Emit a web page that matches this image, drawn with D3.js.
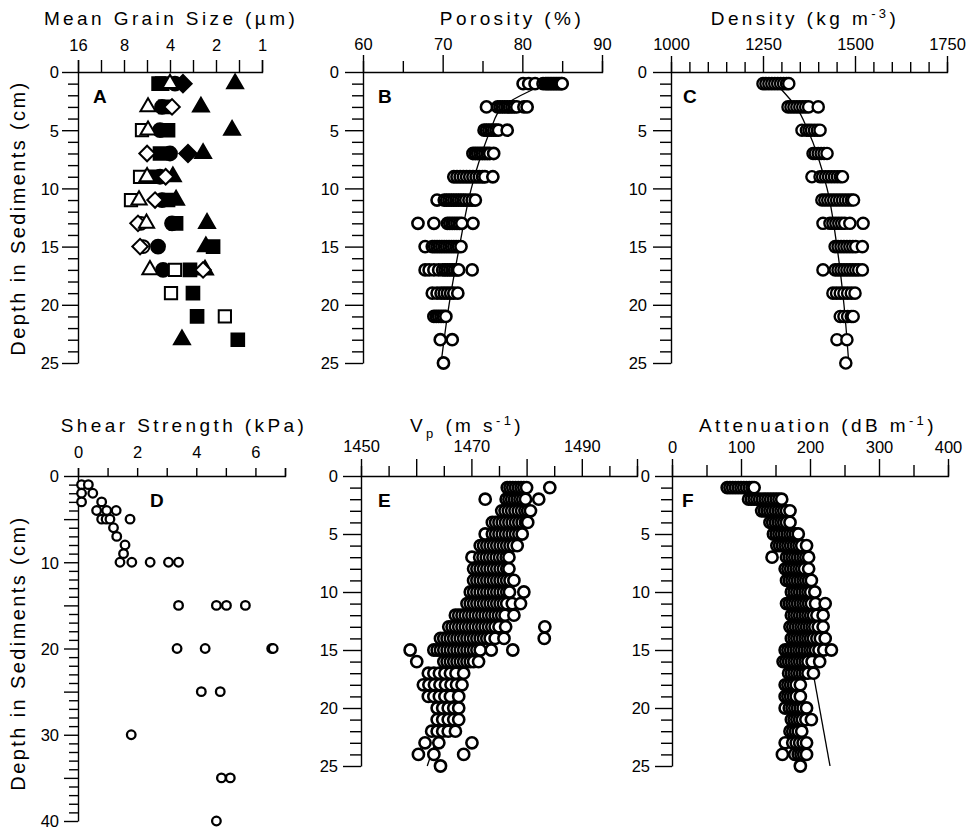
<!DOCTYPE html>
<html>
<head>
<meta charset="utf-8">
<script src="https://cdn.jsdelivr.net/npm/d3@7"></script>
<style>
body { margin: 0; background: #fff; }
svg text { font-family: "Liberation Sans", Arial, Helvetica, sans-serif; fill: #000; }
.tick text { font-size: 16.5px; }
.title { font-size: 19px; letter-spacing: 3.4px; }
.ylab { font-size: 20px; letter-spacing: 2.4px; }
.letter { font-size: 19px; font-weight: bold; }
.domain, .tick line { stroke: #000; stroke-width: 1.4; }
</style>
</head>
<body>
<script>
// ---- A: mean grain size (um) by depth (cm), one array per symbol
var grainFilledSquare = [[1,4.75],[1,4.5],[3,4.3],[5,4.12],[7,4.65],[9,5.25],[11,4.12],[13,3.65],[15,2.09],[17,2.96],[19,2.83],[21,2.66],[23,1.44]];
var grainOpenSquare = [[5,6.1],[9,6.28],[11,7.2],[17,3.71],[19,3.94],[21,1.75]];
var grainFilledTriangle = [[1,1.5],[3,2.51],[5,1.57],[7,2.43],[9,3.83],[11,3.65],[13,2.29],[15,2.33],[17,2.36],[23,3.34]];
var grainOpenTriangle = [[1,4.0],[3,5.57],[5,5.57],[9,5.65],[11,6.38],[13,5.7],[17,5.41]];
var grainFilledCircle = [[1,3.71],[3,4.51],[5,4.65],[7,4.0],[9,4.65],[11,4.51],[13,3.88],[15,4.79],[17,4.44]];
var grainFilledDiamond = [[1,3.29],[7,3.05]];
var grainOpenDiamond = [[3,3.88],[7,5.65],[9,4.27],[11,5.01],[13,6.48],[15,6.28],[17,2.43]];
var grainOpenCircle = [[13,6.2],[15,6.0]];

// ---- B: porosity (%) per sampled depth
var porosity = [
  [1, [80.1,80.8,81.6,82.6,82.9,83.1,83.3,83.5,83.7,83.9,84.1,84.3,84.5,84.7,84.9,85.0]],
  [3, [75.5,76.9,77.2,77.5,77.8,78.1,78.4,78.7,79.0,79.3,80.2,80.6]],
  [5, [75.2,75.5,75.8,76.1,76.4,76.7,77.0,78.1]],
  [7, [73.8,74.1,74.4,74.7,75.0,75.3,75.6,75.9,76.4]],
  [9, [71.4,71.8,72.2,72.6,73.0,73.4,73.8,74.2,74.6,75.0,75.3,76.3]],
  [11, [69.3,70.2,70.5,70.8,71.1,71.4,71.7,72.0,72.3,72.6,72.9,73.3,73.7,74.1]],
  [13, [66.9,68.9,70.6,70.9,71.2,71.5,71.8,72.1,72.4,73.8]],
  [15, [67.8,68.7,69.0,69.3,69.6,69.9,70.2,70.5,70.8,71.1,71.4,71.7,72.0,72.3]],
  [17, [67.8,68.3,68.9,69.5,70.0,70.3,70.6,70.9,71.2,71.5,71.8,72.0,73.7]],
  [19, [68.7,69.3,69.8,70.2,70.6,71.0,71.4,71.9]],
  [21, [68.9,69.2,69.5,69.8,70.1,70.4]],
  [23, [69.7,71.2]],
  [25, [70.1]]
];
var porosityFit = [[1.2,82.3],[3,77.5],[5,76.0],[7,74.9],[10,73.6],[15,72.1],[20,70.8],[25,69.8]];

// ---- C: density (kg m-3)
var density = [
  [1, [1250,1258,1266,1274,1282,1290,1298,1306,1314,1320]],
  [3, [1318,1326,1334,1342,1350,1358,1366,1374,1400]],
  [5, [1356,1368,1375,1382,1390,1398,1405]],
  [7, [1386,1392,1400,1408,1416,1424]],
  [9, [1383,1405,1412,1420,1428,1436,1444,1452,1460,1466]],
  [11, [1410,1418,1426,1434,1442,1450,1458,1466,1474,1482,1490,1496]],
  [13, [1413,1432,1440,1448,1456,1464,1472,1486,1522]],
  [15, [1446,1454,1462,1470,1478,1486,1494,1502,1520]],
  [17, [1413,1446,1454,1462,1470,1478,1486,1494,1502,1510,1520]],
  [19, [1440,1450,1460,1470,1480,1490,1500]],
  [21, [1460,1470,1480,1490,1495]],
  [23, [1451,1478]],
  [25, [1475]]
];
var densityFit = [[1.5,1300],[3,1340],[5,1372],[10,1424],[15,1451],[20,1470],[25,1483]];

// ---- D: shear strength (kPa) [depth, value]
var shear = [
  [1,0.12],[1,0.35],[2,0.12],[2,0.5],[3,0.12],[3,0.8],
  [4,0.63],[4,0.97],[4,1.29],[5,0.8],[5,0.95],[5,1.08],[5,1.76],
  [6,1.2],[7,1.31],[8,1.59],[9,1.54],
  [10,1.42],[10,1.82],[10,2.44],[10,3.06],[10,3.4],
  [15,3.4],[15,4.68],[15,5.02],[15,5.66],
  [20,3.35],[20,4.3],[20,6.55],[20,6.6],
  [25,4.17],[25,4.81],[30,1.8],[35,4.85],[35,5.15],[40,4.68]
];

// ---- E: Vp (m s-1), 1 cm spacing
var vp = [
  [1, [1476.5,1477.0,1477.5,1478.0,1478.5,1479.0,1479.5,1480.0,1484.2]],
  [2, [1472.5,1476.3,1476.8,1477.3,1477.8,1478.3,1478.8,1479.3,1479.8,1482.2]],
  [3, [1475.5,1476.1,1476.7,1477.3,1477.9,1478.5,1479.1,1479.7,1480.2,1480.7]],
  [4, [1473.8,1474.4,1475.0,1475.6,1476.2,1476.8,1477.4,1478.0,1478.6,1479.2,1479.8,1480.2]],
  [5, [1472.5,1473.8,1474.4,1475.0,1475.6,1476.2,1476.8,1477.4,1478.0,1478.6,1479.2]],
  [6, [1471.6,1472.2,1472.8,1473.4,1474.0,1474.6,1475.2,1475.8,1476.4,1477.0,1477.6,1478.3]],
  [7, [1470.1,1471.5,1472.1,1472.7,1473.3,1473.9,1474.5,1475.1,1475.7,1476.3,1476.8]],
  [8, [1470.4,1471.0,1471.6,1472.2,1472.8,1473.4,1474.0,1474.6,1475.2,1475.8,1476.4,1476.8]],
  [9, [1470.4,1471.0,1471.6,1472.2,1472.8,1473.4,1474.0,1474.6,1475.2,1475.8,1476.4,1477.0,1477.7]],
  [10, [1469.8,1470.4,1471.0,1471.6,1472.2,1472.8,1473.4,1474.0,1474.6,1475.2,1475.8,1476.4,1476.9,1479.5]],
  [11, [1469.2,1469.8,1470.4,1471.0,1471.6,1472.2,1472.8,1473.4,1474.0,1474.6,1475.2,1475.8,1476.4,1477.4,1478.9]],
  [12, [1467.1,1467.7,1468.3,1468.9,1469.5,1470.1,1470.7,1471.3,1471.9,1472.5,1473.1,1473.7,1474.3,1474.9,1475.5,1476.1,1477.7]],
  [13, [1465.9,1466.5,1467.1,1467.7,1468.3,1468.9,1469.5,1470.1,1470.7,1471.3,1471.9,1472.5,1473.1,1473.7,1474.3,1475.0,1476.2,1483.3]],
  [14, [1464.4,1465.0,1465.6,1466.2,1466.8,1467.4,1468.0,1468.6,1469.2,1469.8,1470.4,1471.0,1471.6,1472.2,1472.8,1473.4,1474.3,1475.9,1483.2]],
  [15, [1458.9,1463.2,1463.8,1464.4,1465.0,1465.6,1466.2,1466.8,1467.4,1468.0,1468.6,1469.2,1469.8,1470.4,1471.0,1471.6,1473.6,1477.5]],
  [16, [1460.1,1465.0,1465.6,1466.2,1466.8,1467.4,1468.0,1468.6,1469.2,1469.8,1470.4,1471.3]],
  [17, [1462.2,1463.2,1464.2,1465.2,1466.2,1467.2,1468.6]],
  [18, [1461.3,1462.3,1463.3,1464.3,1465.3,1466.3,1467.3,1468.3]],
  [19, [1462.2,1463.2,1464.2,1465.2,1466.2,1467.7]],
  [20, [1463.8,1464.8,1465.8,1466.8,1467.7]],
  [21, [1463.8,1464.8,1465.8,1466.8,1467.7]],
  [22, [1462.8,1463.8,1464.8,1465.8,1467.1]],
  [23, [1461.6,1464.1,1470.1]],
  [24, [1460.4,1463.2,1468.6]],
  [25, [1464.4]]
];
var vpFit = [[0.8,1479],[25,1462]];

// ---- F: attenuation (dB m-1)
var atten = [
  [1, [80,84,88,92,96,100,104,108,112,116,119]],
  [2, [111,115,119,123,127,131,135,139,143,147,151,155,159]],
  [3, [130,134,138,142,146,150,154,158,162,166,171]],
  [4, [142,146,150,154,158,162,166,171]],
  [5, [147,151,155,159,163,167,171,175,179,183]],
  [6, [152,156,160,164,168,172,176,180,184,188,195]],
  [7, [145,166,170,174,178,182,186,190,194,198]],
  [8, [164,168,172,176,180,184,188,192,198]],
  [9, [166,170,174,178,182,186,190,194,198,202]],
  [10, [173,177,181,185,189,193,197,201,207]],
  [11, [166,170,174,178,182,186,190,194,198,202,208,222]],
  [12, [173,177,181,185,189,193,197,201,205,210,219]],
  [13, [171,175,179,183,187,191,195,199,203,207,212,219]],
  [14, [173,177,181,185,189,193,197,201,205,210,215,222]],
  [15, [164,168,172,176,180,184,188,192,196,200,204,208,213,220,231]],
  [16, [161,165,169,173,177,181,185,189,193,197,203,214]],
  [17, [169,173,177,181,185,189,193,197,205]],
  [18, [164,168,172,176,180,186]],
  [19, [164,168,172,176,180,186]],
  [20, [164,170,174,178,182,186,190,195]],
  [21, [173,177,181,185,189,194,202]],
  [22, [171,175,179,183,188]],
  [23, [164,175,180,185,190,195]],
  [24, [160,178,183,187,191,195]],
  [25, [186]]
];
var attenFit = [[3,162],[25,229]];

var svg = d3.select("body").append("svg")
    .attr("width", 978)
    .attr("height", 832);

function has(arr, t) {
  return arr.some(function(a) { return Math.abs(a - t) < 1e-9; });
}

// draws both axes of one panel
function axes(o) {
  var y0 = o.y.range()[0], x0 = o.x.range()[0];

  var xa = d3.axisTop(o.x)
      .tickValues(o.xTicks)
      .tickSizeOuter(0)
      .tickSize(o.xMinor)
      .tickFormat(function(t) { return has(o.xLabels, t) ? t : ""; });
  var gx = svg.append("g")
      .attr("transform", "translate(0," + y0 + ")")
      .call(xa);
  gx.selectAll(".tick line")
      .attr("y2", function(t) { return has(o.xMajors, t) ? -o.xMajor : -o.xMinor; });
  gx.selectAll(".tick text").attr("y", -o.xLabelOff).attr("dy", null);

  var ya = d3.axisLeft(o.y)
      .tickValues(d3.range(0, o.y.domain()[1] + 1))
      .tickSizeOuter(0)
      .tickFormat(function(t) { return t % o.yLabelStep == 0 ? t : ""; });
  var gy = svg.append("g")
      .attr("transform", "translate(" + x0 + ",0)")
      .call(ya);
  gy.selectAll(".tick line")
      .attr("x2", function(t) { return t % 5 == 0 ? -o.yMajor : -o.yMinor; });
  gy.selectAll(".tick text").attr("x", -o.yLabelOff).attr("dy", "0.36em");

  svg.append("text").attr("class", "letter")
      .attr("x", x0 + o.letterDx).attr("y", y0 + 31)
      .text(o.letter);
}

function title(x, y, parts) {
  var t = svg.append("text").attr("class", "title")
      .attr("x", x).attr("y", y).attr("text-anchor", "middle");
  parts.forEach(function(p) {
    var s = t.append("tspan").text(p[0]);
    if (p[1] == "sup") s.attr("dy", -7).style("font-size", "13px");
    if (p[1] == "sub") s.attr("dy", 6).style("font-size", "13px");
    if (p[1] == "back") s.attr("dy", p[2]);
  });
}

// rows of circles drawn left to right so that each covers the previous one
function circleRows(x, y, rows, r, sw) {
  var pts = [];
  rows.forEach(function(row) {
    row[1].slice().sort(d3.ascending).forEach(function(v) { pts.push([row[0], v]); });
  });
  svg.append("g").selectAll("circle")
    .data(pts)
    .enter().append("circle")
      .attr("cx", function(d) { return x(d[1]); })
      .attr("cy", function(d) { return y(d[0]); })
      .attr("r", r)
      .attr("fill", "#fff")
      .attr("stroke", "#000")
      .attr("stroke-width", sw);
}

function fitLine(x, y, pts, curve) {
  svg.append("path")
      .datum(pts)
      .attr("fill", "none")
      .attr("stroke", "#000")
      .attr("stroke-width", 1.3)
      .attr("d", d3.line()
        .x(function(d) { return x(d[1]); })
        .y(function(d) { return y(d[0]); })
        .curve(curve || d3.curveLinear));
}

var yTop = d3.scaleLinear().domain([0, 25]).range([72, 363]);
var yBot = d3.scaleLinear().domain([0, 25]).range([476, 766]);
var yShear = d3.scaleLinear().domain([0, 40]).range([476, 821]);

// ---------- A
var xA = d3.scaleLog().base(2).domain([16, 1]).range([78, 262]);
var aTicks = d3.range(0, 9).map(function(k) { return 16 / Math.pow(2, k / 2); });
axes({x: xA, y: yTop, xTicks: aTicks, xLabels: [16, 8, 4, 2, 1], xMajors: [], xMajor: 12, xMinor: 12,
      xLabelOff: 21, yLabelStep: 5, yMajor: 16, yMinor: 10, yLabelOff: 19, letter: "A", letterDx: 15});
title(171, 25, [["Mean Grain Size (\u00b5m)"]]);

var grainSeries = [
  {data: grainFilledSquare, shape: d3.symbolSquare, size: 160, fill: "#000", rot: 0},
  {data: grainFilledCircle, shape: d3.symbolCircle, size: 150, fill: "#000", rot: 0},
  {data: grainFilledDiamond, shape: d3.symbolSquare, size: 150, fill: "#000", rot: 45},
  {data: grainFilledTriangle, shape: d3.symbolTriangle, size: 110, fill: "#000", rot: 0},
  {data: grainOpenCircle, shape: d3.symbolCircle, size: 130, fill: "#fff", rot: 0},
  {data: grainOpenDiamond, shape: d3.symbolSquare, size: 120, fill: "#fff", rot: 45},
  {data: grainOpenSquare, shape: d3.symbolSquare, size: 150, fill: "#fff", rot: 0},
  {data: grainOpenTriangle, shape: d3.symbolTriangle, size: 100, fill: "#fff", rot: 0}
];
grainSeries.forEach(function(s) {
  svg.append("g").selectAll("path")
    .data(s.data)
    .enter().append("path")
      .attr("d", d3.symbol().type(s.shape).size(s.size))
      .attr("transform", function(d) {
        return "translate(" + xA(d[1]) + "," + yTop(d[0]) + ") rotate(" + s.rot + ")";
      })
      .attr("fill", s.fill)
      .attr("stroke", "#000")
      .attr("stroke-width", 2);
});

// ---------- B
var xB = d3.scaleLinear().domain([60, 90]).range([363, 602]);
axes({x: xB, y: yTop, xTicks: d3.range(60, 91, 5), xLabels: [60, 70, 80, 90], xMajors: [60, 70, 80, 90],
      xMajor: 17, xMinor: 11, xLabelOff: 22, yLabelStep: 5, yMajor: 18, yMinor: 11, yLabelOff: 24,
      letter: "B", letterDx: 15});
title(512, 25, [["Porosity (%)"]]);
fitLine(xB, yTop, porosityFit, d3.curveMonotoneY);
circleRows(xB, yTop, porosity, 5.6, 2.6);

// ---------- C
var xC = d3.scaleLinear().domain([1000, 1750]).range([671, 947]);
axes({x: xC, y: yTop, xTicks: d3.range(1000, 1751, 50), xLabels: [1000, 1250, 1500, 1750],
      xMajors: [1000, 1250, 1500, 1750], xMajor: 16, xMinor: 10, xLabelOff: 22, yLabelStep: 5,
      yMajor: 18, yMinor: 11, yLabelOff: 24, letter: "C", letterDx: 12});
title(805, 25, [["Density (kg m"], ["-3", "sup"], [")", "back", 7]]);
fitLine(xC, yTop, densityFit, d3.curveMonotoneY);
circleRows(xC, yTop, density, 5.6, 2.4);

// ---------- D
var xD = d3.scaleLinear().domain([0, 7]).range([78, 285]);
axes({x: xD, y: yShear, xTicks: d3.range(0, 8), xLabels: [0, 2, 4, 6], xMajors: [], xMajor: 8, xMinor: 8,
      xLabelOff: 18, yLabelStep: 10, yMajor: 14, yMinor: 9, yLabelOff: 19, letter: "D", letterDx: 72});
title(184, 432, [["Shear Strength (kPa)"]]);
svg.append("g").selectAll("circle")
  .data(shear)
  .enter().append("circle")
    .attr("cx", function(d) { return xD(d[1]); })
    .attr("cy", function(d) { return yShear(d[0]); })
    .attr("r", 4.3)
    .attr("fill", "#fff")
    .attr("stroke", "#000")
    .attr("stroke-width", 2.3);

// ---------- E
var xE = d3.scaleLinear().domain([1450, 1500]).range([361, 637]);
axes({x: xE, y: yBot, xTicks: d3.range(1450, 1501, 5), xLabels: [1450, 1470, 1490],
      xMajors: d3.range(1450, 1501, 10), xMajor: 17, xMinor: 10, xLabelOff: 24, yLabelStep: 5,
      yMajor: 18, yMinor: 11, yLabelOff: 23, letter: "E", letterDx: 17});
title(467, 432, [["V"], ["p", "sub"], [" (m s", "back", -6], ["-1", "sup"], [")", "back", 7]]);
fitLine(xE, yBot, vpFit);
circleRows(xE, yBot, vp, 5.6, 2.6);

// ---------- F
var xF = d3.scaleLinear().domain([0, 400]).range([672, 948]);
axes({x: xF, y: yBot, xTicks: d3.range(0, 401, 50), xLabels: [0, 100, 200, 300, 400],
      xMajors: [0, 100, 200, 300, 400], xMajor: 17, xMinor: 11, xLabelOff: 23, yLabelStep: 5,
      yMajor: 17, yMinor: 11, yLabelOff: 22, letter: "F", letterDx: 10});
title(818, 432, [["Attenuation (dB m"], ["-1", "sup"], [")", "back", 7]]);
fitLine(xF, yBot, attenFit);
circleRows(xF, yBot, atten, 5.6, 2.6);

// shared y labels
svg.append("text").attr("class", "ylab")
    .attr("text-anchor", "middle")
    .attr("transform", "translate(25,218) rotate(-90)")
    .text("Depth in Sediments (cm)");
svg.append("text").attr("class", "ylab")
    .attr("text-anchor", "middle")
    .attr("transform", "translate(25,653) rotate(-90)")
    .text("Depth in Sediments (cm)");
</script>
</body>
</html>
